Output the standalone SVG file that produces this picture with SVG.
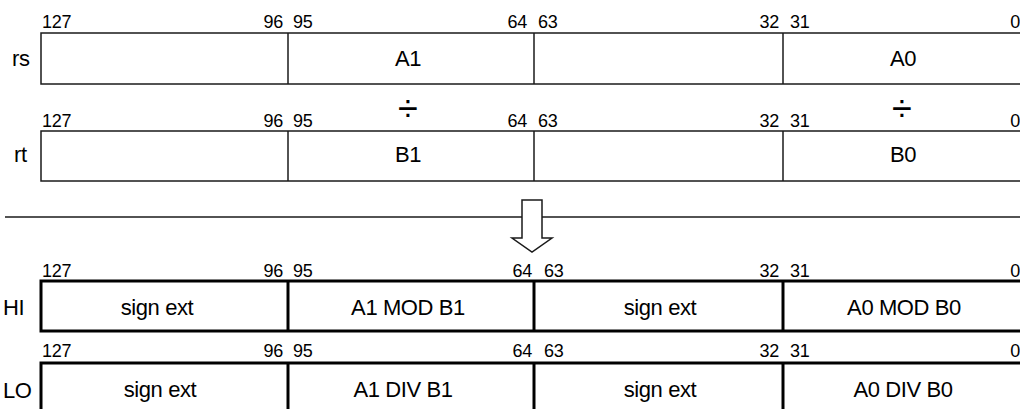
<svg xmlns="http://www.w3.org/2000/svg" width="1020" height="409" viewBox="0 0 1020 409">
<style>
  text { font-family: "Liberation Sans", Arial, sans-serif; fill: #000; }
  .bit { font-size: 18px; letter-spacing: -0.2px; }
  .lbl { font-size: 22px; letter-spacing: -0.4px; }
  .op { font-size: 36px; }
  .mid { text-anchor: middle; }
  .end { text-anchor: end; }
  .thin { fill: #fff; stroke: #1a1a1a; stroke-width: 1.5; }
  .thinl { stroke: #1a1a1a; stroke-width: 1.5; fill: none; }
  .thick { fill: #fff; stroke: #000; stroke-width: 3; }
  .thickl { stroke: #000; stroke-width: 3; fill: none; }
</style>

<g id="rs">
  <text class="lbl" x="12" y="66">rs</text>
  <rect class="thin" x="41" y="33" width="990" height="51"/>
  <line class="thinl" x1="288" y1="33" x2="288" y2="84"/>
  <line class="thinl" x1="534" y1="33" x2="534" y2="84"/>
  <line class="thinl" x1="783" y1="33" x2="783" y2="84"/>
  <text class="bit" x="42" y="28">127</text>
  <text class="bit end" x="283" y="28">96</text>
  <text class="bit" x="293" y="28">95</text>
  <text class="bit end" x="527" y="28">64</text>
  <text class="bit" x="538" y="28">63</text>
  <text class="bit end" x="779" y="28">32</text>
  <text class="bit" x="790" y="28">31</text>
  <text class="bit end" x="1020" y="28">0</text>
  <text class="lbl mid" x="408" y="66">A1</text>
  <text class="lbl mid" x="903" y="66">A0</text>
</g>

<g id="div-ops">
  <text class="op mid" x="408" y="121">÷</text>
  <text class="op mid" x="902" y="121">÷</text>
</g>

<g id="rt">
  <text class="lbl" x="14" y="162">rt</text>
  <rect class="thin" x="41" y="131" width="990" height="50"/>
  <line class="thinl" x1="288" y1="131" x2="288" y2="181"/>
  <line class="thinl" x1="534" y1="131" x2="534" y2="181"/>
  <line class="thinl" x1="783" y1="131" x2="783" y2="181"/>
  <text class="bit" x="42" y="127">127</text>
  <text class="bit end" x="283" y="127">96</text>
  <text class="bit" x="293" y="127">95</text>
  <text class="bit end" x="527" y="127">64</text>
  <text class="bit" x="538" y="127">63</text>
  <text class="bit end" x="779" y="127">32</text>
  <text class="bit" x="790" y="127">31</text>
  <text class="bit end" x="1020" y="127">0</text>
  <text class="lbl mid" x="408" y="162">B1</text>
  <text class="lbl mid" x="903" y="162">B0</text>
</g>

<g id="connectors">
  <line class="thinl" x1="5" y1="217" x2="1020" y2="217"/>
  <polygon points="522,200 542,200 542,238 552,238 532,252 512,238 522,238" fill="#fff" stroke="#1a1a1a" stroke-width="1.5"/>
</g>

<g id="HI">
  <text class="lbl" x="3" y="315">HI</text>
  <rect class="thick" x="41" y="281" width="990" height="50"/>
  <line class="thickl" x1="288" y1="281" x2="288" y2="331"/>
  <line class="thickl" x1="534" y1="281" x2="534" y2="331"/>
  <line class="thickl" x1="783" y1="281" x2="783" y2="331"/>
  <text class="bit" x="42" y="277">127</text>
  <text class="bit end" x="283" y="277">96</text>
  <text class="bit" x="293" y="277">95</text>
  <text class="bit end" x="532" y="277">64</text>
  <text class="bit" x="544" y="277">63</text>
  <text class="bit end" x="779" y="277">32</text>
  <text class="bit" x="790" y="277">31</text>
  <text class="bit end" x="1020" y="277">0</text>
  <text class="lbl mid" x="157" y="315">sign ext</text>
  <text class="lbl mid" x="408" y="315">A1 MOD B1</text>
  <text class="lbl mid" x="660" y="315">sign ext</text>
  <text class="lbl mid" x="904" y="315">A0 MOD B0</text>
</g>

<g id="LO">
  <text class="lbl" x="3" y="398">LO</text>
  <rect class="thick" x="41" y="363" width="990" height="60"/>
  <line class="thickl" x1="288" y1="363" x2="288" y2="409"/>
  <line class="thickl" x1="534" y1="363" x2="534" y2="409"/>
  <line class="thickl" x1="783" y1="363" x2="783" y2="409"/>
  <text class="bit" x="42" y="357">127</text>
  <text class="bit end" x="283" y="357">96</text>
  <text class="bit" x="293" y="357">95</text>
  <text class="bit end" x="532" y="357">64</text>
  <text class="bit" x="544" y="357">63</text>
  <text class="bit end" x="779" y="357">32</text>
  <text class="bit" x="790" y="357">31</text>
  <text class="bit end" x="1020" y="357">0</text>
  <text class="lbl mid" x="160" y="397">sign ext</text>
  <text class="lbl mid" x="403" y="397">A1 DIV B1</text>
  <text class="lbl mid" x="660" y="397">sign ext</text>
  <text class="lbl mid" x="903" y="397">A0 DIV B0</text>
</g>
</svg>
